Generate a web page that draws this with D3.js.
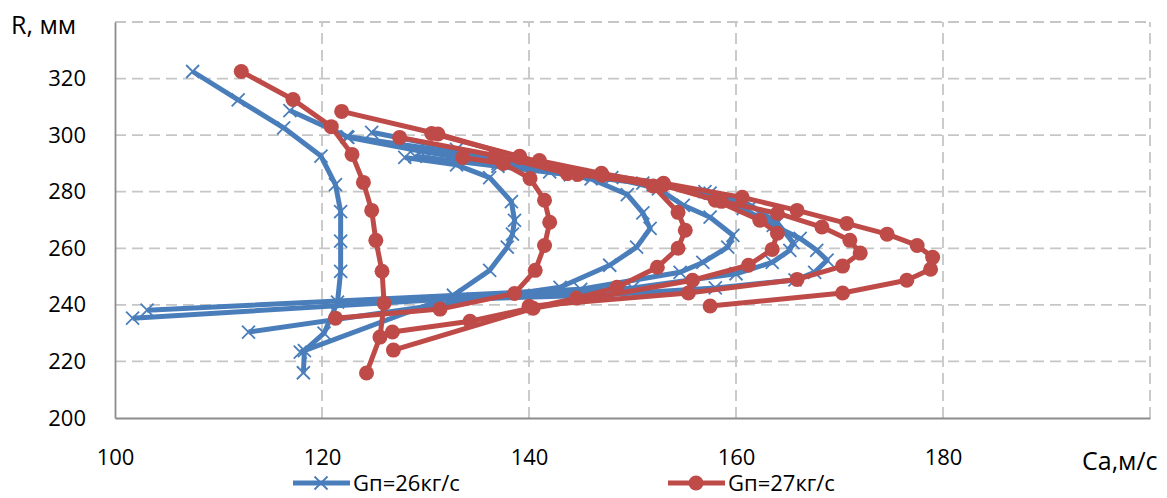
<!DOCTYPE html>
<html>
<head>
<meta charset="utf-8">
<script src="https://cdn.jsdelivr.net/npm/d3@7"></script>
<style>
  body { margin: 0; background: #fff; }
  text { font-family: "Open Sans", sans-serif; fill: #000; }
</style>
</head>
<body>
<svg id="chart" width="1167" height="498"></svg>
<script>
// axis ticks
const xTicks = [100, 120, 140, 160, 180];
const yTicks = [200, 220, 240, 260, 280, 300, 320];

// Gп=26кг/с, each profile is [Ca, R]
const blue1 = [[107.5,322.5],[111.9,312.5],[116.3,302.6],[119.9,292.6],[121.3,282.5],[121.8,273],[121.8,262.5],[121.8,251.8],[121.5,241],[120.2,230],[118.3,223.8],[118.2,216]];
const blue2 = [[128.0,292.1],[133,289.5],[136.2,285],[138.3,276.5],[138.6,269.9],[138.4,265],[137.9,260.4],[136.2,252.2],[132.7,243.4],[117.9,223.3]];
const blue3 = [[122.5,299.2],[130,294],[137,290],[142,287],[146,284.5],[149.5,279],[151,272.5],[151.7,267],[150.4,260.4],[147.8,254],[143,246.2],[112.9,230.4]];
const blue4 = [[124.8,301],[133,295],[141,289],[148,285],[152.5,281],[154.9,275.2],[157.5,271],[159.7,264.6],[159.2,260.4],[156.8,255],[154.6,251.5],[145,245.5],[103.1,238.1]];
const blue5 = [[116.9,308.7],[122.4,299.5],[130,295.5],[138,290.5],[145,286],[152,282.5],[157.5,279.5],[161.5,275],[164,269],[165.5,262],[165.2,259.3],[163.5,255],[160,251],[150,246],[101.7,235.3]];
const blue6 = [[129,292.5],[137,289],[144,286],[151,283],[157,280],[160.7,274],[163.6,268.1],[166.2,263.5],[167.8,259.3],[168.8,255.8],[167.6,251.5],[165.7,248.8],[158,246],[147,243.5],[133.5,242]];

// Gп=27кг/с
const red1 = [[112.2,322.5],[117.2,312.6],[120.9,303],[122.9,293.2],[124,283.3],[124.8,273.4],[125.2,262.8],[125.8,251.9],[126,240.6],[125.6,228.6],[124.3,215.9]];
const red2 = [[133.6,292.1],[137.5,290],[140.1,284.7],[141.5,277],[142,269.2],[141.5,261],[140.6,252.2],[138.6,244],[131.4,238.5],[121.3,235.3]];
const red3 = [[127.5,299.2],[136.7,292.8],[143.7,286.4],[147.1,285.8],[152,282],[154.4,272.7],[155.1,266.4],[154.4,260],[152.4,253.3],[148.5,246.2],[144.6,242.4],[134.3,234.2],[126.8,230.4]];
const red4 = [[130.6,300.6],[139.1,292.5],[144.7,286.1],[152.9,282.3],[158,277],[162.3,269.9],[164,265.3],[163.5,259.6],[161.2,254],[155.8,248.7],[140.4,238.8],[126.9,224]];
const red5 = [[141,291],[147,286.5],[153,282.5],[158.6,276.6],[164,272.4],[168.3,267.5],[171,262.8],[172,258.3],[170.3,253.7],[165.9,249],[155.4,244.2],[140,239.5]];
const red6 = [[121.9,308.4],[131.2,300.4],[139.1,292.1],[147,286],[153,283],[160.6,278],[165.9,273.4],[170.7,268.8],[174.6,265],[177.5,261],[179,256.8],[178.8,252.6],[176.5,248.7],[170.3,244.2],[157.5,239.6]];

const blueProfiles = [blue1, blue2, blue3, blue4, blue5, blue6];
const redProfiles = [red1, red2, red3, red4, red5, red6];

const blue = "#4a7ebb", red = "#be4b48", gridColor = "#c6c6c6";

const svg = d3.select("#chart");
const x = d3.scaleLinear().domain([100, 200]).range([115, 1150]);
const y = d3.scaleLinear().domain([200, 340]).range([418, 22]);

// grid
svg.append("g").selectAll("line").data(d3.range(120, 201, 20)).join("line")
    .attr("x1", d => x(d)).attr("x2", d => x(d)).attr("y1", y(200)).attr("y2", y(340))
    .attr("stroke", gridColor).attr("stroke-width", 1.8).attr("stroke-dasharray", "11,6");
svg.append("g").selectAll("line").data(d3.range(220, 341, 20)).join("line")
    .attr("x1", x(100)).attr("x2", x(200)).attr("y1", d => y(d)).attr("y2", d => y(d))
    .attr("stroke", gridColor).attr("stroke-width", 1.8).attr("stroke-dasharray", "11,6");

// axes
const xAxis = svg.append("g").attr("transform", `translate(0,${y(200)})`)
    .call(d3.axisBottom(x).tickValues(xTicks).tickSize(0).tickPadding(31).tickFormat(d3.format("d")));
const yAxis = svg.append("g").attr("transform", `translate(${x(100)},0)`)
    .call(d3.axisLeft(y).tickValues(yTicks).tickSize(0).tickPadding(29).tickFormat(d3.format("d")));
[xAxis, yAxis].forEach(a => {
    a.select(".domain").attr("stroke", "#8c8c8c").attr("stroke-width", 1.8);
    a.selectAll("text").attr("font-size", 22).style("font-family", '"Open Sans", sans-serif');
});

const line = d3.line().x(d => x(d[0])).y(d => y(d[1]));

const crossPath = (s) => `M${-s},${-s}L${s},${s}M${-s},${s}L${s},${-s}`;

const drawGroup = (profiles, color, marker) => {
    const g = svg.append("g");
    g.selectAll("path.line").data(profiles).join("path")
        .attr("class", "line")
        .attr("d", line)
        .attr("fill", "none")
        .attr("stroke", color)
        .attr("stroke-width", 5)
        .attr("stroke-linejoin", "round");
    const pts = profiles.flat();
    if (marker === "cross") {
        g.selectAll("path.m").data(pts).join("path")
            .attr("class", "m")
            .attr("transform", d => `translate(${x(d[0])},${y(d[1])})`)
            .attr("d", crossPath(6.5))
            .attr("stroke", color).attr("stroke-width", 1.8);
    } else {
        g.selectAll("circle").data(pts).join("circle")
            .attr("cx", d => x(d[0])).attr("cy", d => y(d[1])).attr("r", 7.5)
            .attr("fill", color);
    }
};

drawGroup(blueProfiles, blue, "cross");
drawGroup(redProfiles, red, "circle");

// axis titles
svg.append("text").attr("x", 11).attr("y", 34).attr("font-size", 25).text("R, мм");
svg.append("text").attr("x", 1082).attr("y", 470).attr("font-size", 25).text("Ca,м/с");

// legend
const legend = [
    {label: "Gп=26кг/с", color: blue, marker: "cross", x0: 293},
    {label: "Gп=27кг/с", color: red, marker: "circle", x0: 668}
];
const lg = svg.append("g").selectAll("g").data(legend).join("g")
    .attr("transform", d => `translate(${d.x0},483)`);
lg.append("line").attr("x1", 0).attr("x2", 57).attr("stroke", d => d.color).attr("stroke-width", 5);
lg.filter(d => d.marker === "cross").append("path")
    .attr("transform", "translate(28,0)").attr("d", crossPath(6.5))
    .attr("stroke", d => d.color).attr("stroke-width", 1.8);
lg.filter(d => d.marker === "circle").append("circle")
    .attr("cx", 28).attr("r", 7.5).attr("fill", d => d.color);
lg.append("text").attr("x", 60).attr("y", 8).attr("font-size", 22).text(d => d.label);
</script>
</body>
</html>
